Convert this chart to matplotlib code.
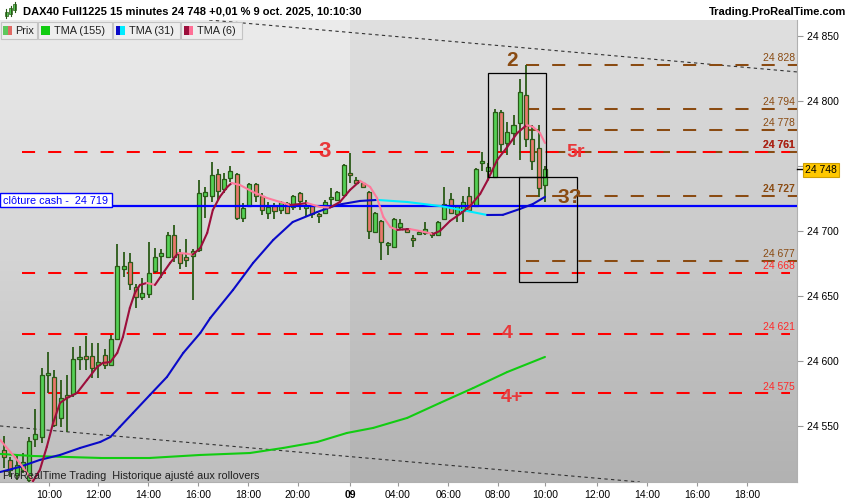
import numpy as np
import matplotlib
matplotlib.use("Agg")
import matplotlib.pyplot as plt
import matplotlib.transforms as mtransforms
from matplotlib.patches import Rectangle
from matplotlib.collections import LineCollection
from matplotlib.ticker import FuncFormatter

plt.rcParams['font.family'] = ['Liberation Sans', 'DejaVu Sans']

# DAX40 15 min candles, 8 oct 08:15 -> 9 oct 10:00 (one entry per bar).
opens = [24531.5, 24523.9, 24512.3, 24516.2, 24508.5, 24540.0, 24541.5, 24589.2, 24587.7, 24556.2,
         24573.9, 24574.6, 24601.6, 24603.9, 24603.9, 24596.9, 24604.6, 24596.9, 24616.9, 24670.8,
         24676.2, 24656.9, 24649.2, 24651.5, 24669.2, 24680.8, 24680.0, 24696.9, 24683.1, 24680.0,
         24680.8, 24685.4, 24726.9, 24726.9, 24743.9, 24732.3, 24740.8, 24743.9, 24710.0, 24719.2,
         24736.2, 24726.9, 24713.9, 24719.2, 24716.2, 24721.5, 24718.5, 24729.2, 24717.7, 24719.2,
         24713.1, 24713.9, 24724.6, 24723.9, 24727.7, 24744.6, 24739.2, 24736.9, 24730.0, 24699.2,
         24707.7, 24689.2, 24687.7, 24703.1, 24701.5, 24693.9, 24697.7, 24698.5, 24698.5, 24697.0,
         24709.2, 24724.6, 24713.1, 24715.4, 24726.9, 24719.2, 24752.3, 24746.2, 24741.5, 24791.5,
         24767.7, 24775.4, 24783.1, 24804.6, 24770.8, 24763.9, 24735.4]
highs = [24542.3, 24526.2, 24527.7, 24529.3, 24541.5, 24563.1, 24594.6, 24606.9, 24593.1, 24585.4,
         24589.2, 24610.8, 24611.6, 24619.3, 24613.9, 24613.9, 24609.2, 24620.0, 24690.0, 24683.9,
         24683.1, 24659.2, 24663.9, 24691.5, 24686.9, 24686.2, 24699.2, 24704.6, 24686.2, 24693.9,
         24686.2, 24739.2, 24733.9, 24753.1, 24747.7, 24744.6, 24750.0, 24744.6, 24721.5, 24736.9,
         24736.9, 24729.2, 24722.3, 24721.5, 24723.1, 24722.3, 24727.7, 24730.0, 24723.9, 24720.0,
         24713.9, 24723.9, 24733.1, 24730.8, 24751.5, 24760.0, 24741.5, 24737.7, 24730.8, 24714.6,
         24708.5, 24691.5, 24710.0, 24709.2, 24702.3, 24697.0, 24700.0, 24706.9, 24699.2, 24707.7,
         24733.9, 24729.2, 24720.0, 24726.9, 24733.9, 24748.5, 24760.8, 24752.3, 24793.9, 24793.1,
         24783.9, 24789.2, 24816.9, 24828.0, 24781.5, 24781.5, 24750.0]
lows = [24517.7, 24510.8, 24508.5, 24513.9, 24507.0, 24533.9, 24536.9, 24575.4, 24549.3, 24549.3,
        24545.4, 24572.3, 24593.1, 24593.1, 24586.9, 24586.9, 24593.9, 24596.2, 24616.2, 24664.6,
        24654.6, 24640.8, 24646.9, 24648.5, 24667.7, 24663.9, 24679.2, 24676.2, 24670.8, 24672.3,
        24646.9, 24683.9, 24710.0, 24722.3, 24723.9, 24729.2, 24737.7, 24708.5, 24706.9, 24718.5,
        24722.3, 24712.3, 24709.2, 24709.2, 24713.1, 24713.1, 24716.2, 24716.2, 24710.8, 24710.0,
        24706.2, 24713.1, 24720.0, 24723.1, 24726.9, 24736.9, 24735.4, 24733.1, 24693.9, 24698.5,
        24677.7, 24681.5, 24686.9, 24700.8, 24698.5, 24687.7, 24697.0, 24697.0, 24694.6, 24696.2,
        24708.5, 24713.1, 24706.9, 24706.9, 24714.6, 24718.5, 24746.2, 24739.2, 24740.8, 24760.8,
        24758.5, 24766.2, 24754.6, 24764.6, 24746.9, 24726.2, 24722.3]
closes = [24526.2, 24516.2, 24520.0, 24522.3, 24538.5, 24543.9, 24589.2, 24590.8, 24550.8, 24571.6,
          24572.3, 24601.6, 24603.1, 24601.6, 24594.6, 24599.2, 24596.9, 24616.9, 24673.1, 24673.1,
          24659.2, 24649.2, 24652.3, 24667.7, 24680.0, 24683.1, 24696.9, 24680.0, 24675.4, 24677.7,
          24684.6, 24729.2, 24730.0, 24743.1, 24730.8, 24740.0, 24746.2, 24710.0, 24717.7, 24736.2,
          24726.9, 24716.2, 24718.5, 24715.4, 24722.3, 24713.9, 24726.9, 24723.1, 24720.0, 24713.1,
          24711.5, 24722.3, 24726.2, 24730.0, 24750.8, 24743.1, 24736.9, 24733.9, 24700.0, 24713.9,
          24691.5, 24690.8, 24709.2, 24706.2, 24699.2, 24693.1, 24698.5, 24701.5, 24697.0, 24706.9,
          24720.8, 24713.9, 24719.2, 24722.3, 24716.2, 24747.7, 24753.9, 24749.2, 24791.5, 24766.9,
          24776.2, 24781.5, 24806.9, 24770.8, 24753.9, 24733.1, 24748.0]

# Moving averages (bar position, value)
tma6_x = [-0.6, 1.0, 2.5, 4.6, 5.7, 6.8, 7.8, 8.9, 10.0, 11.6, 13.2, 14.8, 15.7, 16.9, 18.0, 18.9,
          20.0, 20.8, 21.6, 22.7, 24.0, 25.3, 26.4, 27.7, 29.1, 30.0, 31.2, 32.3, 33.2, 34.3, 35.5,
          36.2, 37.5, 39.6, 41.8, 43.9, 45.5, 47.1, 48.2, 50.2, 51.8, 53.4, 55.0, 56.6, 58.2, 59.3,
          60.3, 61.4, 62.5, 63.4, 64.5, 66.1, 68.2, 69.3, 70.9, 72.5, 74.1, 75.7, 76.9, 78.4, 80.0,
          81.6, 83.1, 84.1, 85.2, 86.0]
tma6_y = [24539.2, 24530.0, 24521.5, 24507.5, 24516.2, 24533.9, 24552.3, 24567.7, 24571.5, 24575.4,
          24585.4, 24595.4, 24598.5, 24599.2, 24606.2, 24618.5, 24640.8, 24652.3, 24658.5, 24660.0,
          24658.5, 24667.7, 24675.4, 24683.1, 24682.5, 24681.8, 24686.9, 24698.5, 24716.2, 24726.2,
          24733.9, 24736.9, 24735.4, 24730.0, 24725.4, 24722.3, 24720.0, 24720.8, 24721.5, 24718.5,
          24718.0, 24722.3, 24731.5, 24738.5, 24733.9, 24725.4, 24710.8, 24703.1, 24700.8, 24701.2,
          24701.5, 24700.0, 24697.7, 24700.0, 24707.7, 24713.1, 24719.2, 24728.5, 24739.2, 24754.6,
          24764.6, 24775.4, 24781.5, 24780.0, 24775.4, 24767.7]
tma31_x = [-0.6, 2.5, 5.7, 8.9, 12.1, 15.3, 16.9, 18.4, 20.5, 23.2, 25.9, 28.5, 31.2, 32.8, 36.4,
           39.6, 42.8, 45.9, 49.8, 52.9, 56.6, 59.3, 64.1, 69.3, 73.6, 76.8, 79.3, 82.0, 84.1, 86.0]
tma31_y = [24514.6, 24518.5, 24523.9, 24527.7, 24533.1, 24537.7, 24541.5, 24549.2, 24560.0, 24573.9,
           24587.7, 24606.2, 24621.5, 24633.1, 24654.6, 24675.4, 24693.1, 24706.9, 24714.6, 24720.0,
           24723.1, 24723.9, 24722.3, 24719.2, 24715.4, 24712.3, 24712.4, 24716.9, 24720.8, 24726.2]
tma155_x = [-0.6, 4.6, 15.3, 23.2, 31.2, 39.1, 44.4, 49.8, 54.5, 58.7, 64.1, 69.3, 74.6, 80.0, 86.0]
tma155_y = [24528.5, 24526.9, 24525.4, 24525.4, 24527.7, 24529.2, 24533.1, 24537.7, 24544.6,
            24548.5, 24556.2, 24567.7, 24579.2, 24591.5, 24603.1]

# Levels
red_levels = [24761, 24668, 24621, 24575]
brown_levels = [24828, 24794, 24778, 24761, 24727, 24677]
cash_close = 24719
last_price = 24748

time_labels = ["10:00", "12:00", "14:00", "16:00", "18:00", "20:00", "09", "04:00", "06:00",
               "08:00", "10:00", "12:00", "14:00", "16:00", "18:00"]
time_pos = [7.2, 15.0, 22.9, 30.8, 38.8, 46.7, 55.0, 62.6, 70.6, 78.5, 86.0, 94.3, 102.2, 110.2, 118.1]

W, H = 850, 500
RED = '#ff0000'
BROWN = '#8a4b12'
LABEL_RED = '#e8383a'

fig = plt.figure(figsize=(8.5, 5), dpi=100)
fig.patch.set_facecolor('white')
ax = fig.add_axes([0, 18 / H, 797 / W, 462 / H])
ax.set_facecolor('none')

# background: vertical gradient, previous session slightly lighter
split = 350 / 797
t = np.linspace(0, 1, 256).reshape(-1, 1, 1)
for (x0, x1, top, bot) in [(0, split, 236, 190), (split, 1, 224, 178)]:
    img = np.repeat((top + (bot - top) * t) / 255.0, 3, axis=2)
    ax.imshow(img, extent=(x0, x1, 0, 1), transform=ax.transAxes, aspect='auto',
              interpolation='bilinear', zorder=0)

# dotted trend lines
ax.axline((38.0, 24860.0), (126.2, 24822.3), color='#333333', lw=0.8, ls=(0, (3, 3)), zorder=1)
ax.axline((-0.6, 24550.0), (101.1, 24506.9), color='#333333', lw=0.8, ls=(0, (3, 3)), zorder=1)

# horizontal levels
ax.hlines(brown_levels, 83.0, 126.1, colors=BROWN, linestyles=(0, (6.5, 6.5)), lw=1.45, zorder=2)
ax.hlines(red_levels, 2.9, 125.0, colors=RED, linestyles=(0, (6.5, 6.5)), lw=1.45, zorder=2)

# candles
idx = np.arange(len(opens))
o = np.array(opens)
c = np.array(closes)
up = c >= o
wick = '#2a5a17'
ax.vlines(idx, lows, highs, color=wick, lw=1.3, zorder=3)
ax.bar(idx, np.maximum(np.abs(c - o), 1.2), 0.64, bottom=np.minimum(o, c),
       color=np.where(up, '#55d055', '#e8786c'), edgecolor=wick, lw=0.9, zorder=4)

# cash close line
ax.axhline(cash_close, color='#0000ff', lw=1.6, zorder=5)


def two_tone(xs, ys, c_up, c_dn, lw):
    pts = np.column_stack([xs, ys])
    segs = np.stack([pts[:-1], pts[1:]], axis=1)
    cols = [c_up if b >= a else c_dn for a, b in zip(ys[:-1], ys[1:])]
    ax.add_collection(LineCollection(segs, colors=cols, linewidths=lw, capstyle='round',
                                     joinstyle='round', zorder=6))


two_tone(tma155_x, tma155_y, '#11cc11', '#11cc11', 1.5)
two_tone(tma31_x, tma31_y, '#0a0ac8', '#00ecff', 1.5)
two_tone(tma6_x, tma6_y, '#9c0f3c', '#ff7a9c', 1.5)

# boxes
for (x0, x1, y0, y1) in [(76.9, 86.2, 24741.5, 24821.5), (81.9, 91.1, 24660.8, 24741.5)]:
    ax.add_patch(Rectangle((x0, y0), x1 - x0, y1 - y0, fill=False, ec='black', lw=0.9, zorder=7))

# wave labels
for (s, x, y, col, fs) in [("2", 80.8, 24831, BROWN, 15), ("3?", 90.0, 24725.5, BROWN, 15),
                           ("5r", 90.9, 24760, LABEL_RED, 14), ("3", 50.9, 24761, LABEL_RED, 16),
                           ("4", 80.0, 24621, LABEL_RED, 14), ("4+", 80.8, 24572, LABEL_RED, 14)]:
    ax.text(x, y, s, color=col, fontsize=fs, fontweight='bold', ha='center', va='center', zorder=8)


def fmt(v):
    return f"{v:,.0f}".replace(",", " ")


# level labels on the right inside the plot
blend = mtransforms.blended_transform_factory(ax.transAxes, ax.transData)
for lv in brown_levels:
    ax.text(0.9975, lv + 1.3, fmt(lv), color=BROWN, fontsize=7.5, ha='right', va='bottom',
            transform=blend, zorder=8, fontweight='bold' if lv in (24727, 24761) else 'normal')
for lv in red_levels:
    col = '#b0201a' if lv == 24761 else '#ff2a2a'
    ax.text(0.9975, lv + 1.3, fmt(lv), color=col, fontsize=7.5, ha='right', va='bottom',
            transform=blend, zorder=9, fontweight='bold' if lv == 24761 else 'normal')

# axes (the 24 750 label sits under the last-price tag)
ax.set_xlim(-0.64, 126.07)
ax.set_ylim(24506.9, 24862.3)
ax.yaxis.tick_right()
ax.set_yticks(np.arange(24550, 24851, 50))
ax.yaxis.set_major_formatter(FuncFormatter(lambda v, p: '' if round(v) == 24750 else fmt(v)))
ax.set_xticks(time_pos)
ax.set_xticklabels(time_labels)
for lab in ax.get_xticklabels():
    if lab.get_text() == "09":
        lab.set_fontweight('bold')
        lab.set_fontsize(9)
ax.tick_params(axis='y', length=4, width=0.8, color='#999999', labelsize=7.5, pad=3)
ax.tick_params(axis='x', length=3, width=0.8, color='#999999', labelsize=7.5, pad=3)
for side in ['left', 'top']:
    ax.spines[side].set_visible(False)
for side in ['right', 'bottom']:
    ax.spines[side].set_color('#b0b0b0')


def px(x, y):
    return x / W, 1 - y / H


def fig_rect(x0, y0, x1, y1, **kw):
    fig.add_artist(Rectangle((x0 / W, 1 - y1 / H), (x1 - x0) / W, (y1 - y0) / H,
                             transform=fig.transFigure, **kw))


# cash close tag
fig_rect(0, 193, 112, 207, fc='white', ec='#0000ff', lw=1.0, zorder=10)
fig.text(*px(3, 200.5), "clôture cash -  24 719", color='#0000ff', fontsize=7.8, va='center', zorder=11)

# last price tag
fig.add_artist(plt.Line2D([797 / W, 803 / W], [1 - 169 / H] * 2, color='black', lw=1, transform=fig.transFigure))
fig_rect(803, 163, 839, 177, fc='#ffc800', ec='#d0a000', lw=0.8, zorder=10)
fig.text(*px(821, 170), fmt(last_price), color='black', fontsize=7.5, ha='center', va='center', zorder=11)

# header
for (cx, b0, b1, w0, w1) in [(6, 12, 16, 9, 18), (10.5, 8, 14, 6, 16), (15, 4, 10, 2, 12)]:
    fig.add_artist(plt.Line2D([cx / W] * 2, [1 - w1 / H, 1 - w0 / H], color='#2a5a17', lw=0.8,
                              transform=fig.transFigure))
    fig_rect(cx - 1.5, b0, cx + 1.5, b1, fc='#55d055', ec='#2a5a17', lw=0.5)
fig.text(*px(23, 12), "DAX40 Full1225 15 minutes 24 748 +0,01 % 9 oct. 2025, 10:10:30",
         fontsize=8, fontweight='bold', va='center')
fig.text(*px(846, 12), "Trading.ProRealTime.com", fontsize=8, fontweight='bold', ha='right', va='center')

# legend row
for (x0, x1) in [(1, 37), (38, 112), (113, 180), (181, 242)]:
    fig_rect(x0, 22, x1, 39, fc='#eeeeee', ec='#c4c4c4', lw=0.8, zorder=10)
for (x0, x1, col) in [(3, 7.5, '#5cc85c'), (7.5, 12, '#e06a64'), (41, 50, '#11cc11'),
                      (116, 120.5, '#0a0ac8'), (120.5, 125, '#00ecff'),
                      (184, 188.5, '#9c0f3c'), (188.5, 193, '#ff6f96')]:
    fig_rect(x0, 26, x1, 35, fc=col, ec='none', zorder=11)
for (x, s) in [(15, "Prix"), (54, "TMA (155)"), (129, "TMA (31)"), (197, "TMA (6)")]:
    fig.text(*px(x, 30.5), s, fontsize=7.8, color='#202020', va='center', zorder=12)

# footer
fig.text(*px(3, 476), "ProRealTime Trading  Historique ajusté aux rollovers", fontsize=7.8,
         color='#202020', va='center', zorder=12)

fig.savefig("out.png", dpi=100)
